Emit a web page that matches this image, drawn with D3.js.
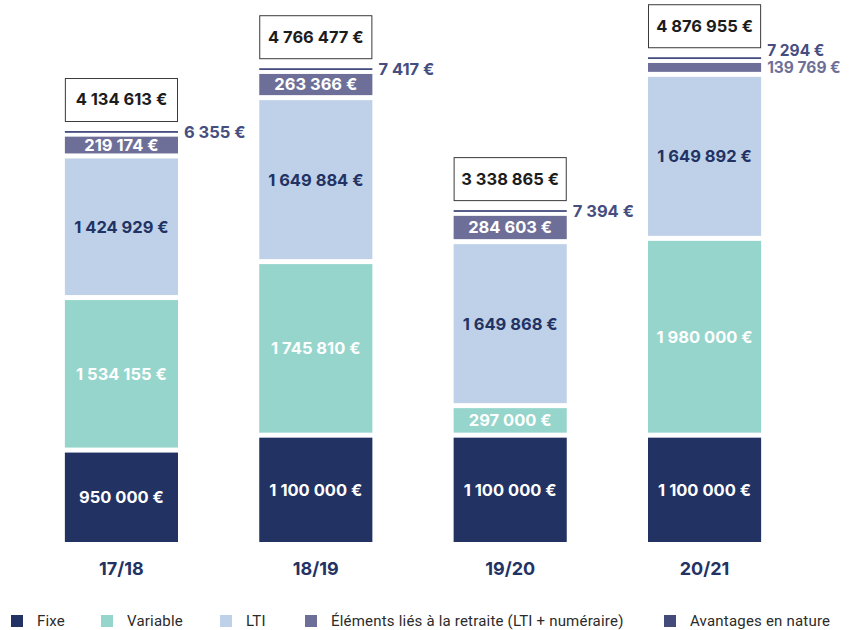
<!DOCTYPE html>
<html>
<head>
<meta charset="utf-8">
<script src="https://cdn.jsdelivr.net/npm/d3@7"></script>
<style>
  body { margin: 0; background: #fff; }
  svg { display: block; }
</style>
</head>
<body>
<svg id="chart"></svg>
<script>
// values (euros)
const periods = ['17/18', '18/19', '19/20', '20/21'];
const fixe = [950000, 1100000, 1100000, 1100000];
const variable = [1534155, 1745810, 297000, 1980000];
const lti = [1424929, 1649884, 1649868, 1649892];
const retraite = [219174, 263366, 284603, 139769];
const avantages = [6355, 7417, 7394, 7294];

const seriesNames = ['Fixe', 'Variable', 'LTI', 'Éléments liés à la retraite (LTI + numéraire)', 'Avantages en nature'];
const seriesKeys = ['fixe', 'variable', 'lti', 'retraite', 'avantages'];
const colors = ['#223263', '#95d5cb', '#bfd1e8', '#6e6f98', '#454c7e'];
const legendColors = ['#223263', '#95d5cb', '#bfd1e8', '#6e6f98', '#444a7a'];
const insideText = ['#fff', '#fff', '#223263', '#fff', '#fff'];

const width = 850, height = 630;
const gap = 5;

const fmt = v => d3.format(',')(v).replace(/,/g, ' ') + ' €';

const rows = periods.map((p, i) => ({
    period: p,
    fixe: fixe[i], variable: variable[i], lti: lti[i],
    retraite: retraite[i], avantages: avantages[i]
}));

const stack = d3.stack().keys(seriesKeys)(rows);

const svg = d3.select('#chart')
    .attr('width', width)
    .attr('height', height);

const x = d3.scaleBand()
    .domain(periods)
    .range([26, 800])
    .paddingInner(0.418)
    .paddingOuter(0.2);

const y = d3.scaleLinear()
    .domain([0, 5000000])
    .range([542, 45]);

const fontBold = 'Inter, "Noto Sans", sans-serif';
const labelSize = 16.5;

// segments
stack.forEach((layer, k) => {
    const g = svg.append('g').attr('class', 'layer-' + seriesKeys[k]);
    layer.forEach((d, i) => {
        const top0 = y(d[1]);
        let top = top0 + gap;
        let bottom = y(d[0]);
        let h = bottom - top;
        if (h < 2) { top = top0; h = 1.8; }
        g.append('rect')
            .attr('x', x(periods[i]))
            .attr('y', top)
            .attr('width', x.bandwidth())
            .attr('height', h)
            .attr('fill', colors[k]);

        const v = d[1] - d[0];
        if (h >= 14) {
            g.append('text')
                .attr('x', x(periods[i]) + x.bandwidth() / 2)
                .attr('y', top + h / 2)
                .attr('dy', '0.36em')
                .attr('text-anchor', 'middle')
                .attr('font-family', fontBold)
                .attr('font-weight', 700)
                .attr('font-size', labelSize)
                .attr('fill', insideText[k])
                .text(fmt(v));
        }
    });
});

// labels outside for the thin segments
rows.forEach((r, i) => {
    const total = d3.sum(seriesKeys, k => r[k]);
    const lx = x(r.period) + x.bandwidth() + 6;
    const retTop = y(total - r.avantages) + gap;
    const retBottom = y(total - r.avantages - r.retraite);
    const retOutside = (retBottom - retTop) < 14;

    let avY = y(total) + 1;
    if (retOutside) avY -= 8;

    svg.append('text')
        .attr('x', lx)
        .attr('y', avY)
        .attr('dy', '0.36em')
        .attr('font-family', fontBold)
        .attr('font-weight', 700)
        .attr('font-size', retOutside ? 15.5 : labelSize)
        .attr('fill', '#464d7f')
        .text(fmt(r.avantages));

    if (retOutside) {
        svg.append('text')
            .attr('x', lx)
            .attr('y', avY + 17)
            .attr('dy', '0.36em')
            .attr('font-family', fontBold)
            .attr('font-weight', 700)
            .attr('font-size', 15.5)
            .attr('fill', '#6e6f98')
            .text(fmt(r.retraite));
    }

    // total box
    const boxH = 43;
    const boxBottom = y(total) - 10;
    svg.append('rect')
        .attr('x', x(r.period) + 0.5)
        .attr('y', boxBottom - boxH + 0.5)
        .attr('width', x.bandwidth() - 1)
        .attr('height', boxH)
        .attr('fill', '#fff')
        .attr('stroke', '#3a3a3a')
        .attr('stroke-width', 1);

    svg.append('text')
        .attr('x', x(r.period) + x.bandwidth() / 2)
        .attr('y', boxBottom - boxH / 2)
        .attr('dy', '0.36em')
        .attr('text-anchor', 'middle')
        .attr('font-family', fontBold)
        .attr('font-weight', 700)
        .attr('font-size', labelSize)
        .attr('fill', '#1c1c1c')
        .text(fmt(total));
});

// category axis
const xAxis = svg.append('g')
    .attr('transform', 'translate(0,569)')
    .call(d3.axisBottom(x).tickSize(0).tickPadding(0));
xAxis.select('.domain').remove();
xAxis.selectAll('text')
    .attr('dy', '0.36em')
    .attr('font-family', fontBold)
    .attr('font-weight', 700)
    .attr('font-size', 18)
    .attr('fill', '#223263');

// legend
const legendX = [11, 101, 220, 305, 664];
const legend = svg.append('g').attr('class', 'legend');
seriesNames.forEach((name, k) => {
    legend.append('rect')
        .attr('x', legendX[k])
        .attr('y', 615)
        .attr('width', 12)
        .attr('height', 12)
        .attr('fill', legendColors[k]);
    legend.append('text')
        .attr('x', legendX[k] + 26)
        .attr('y', 621)
        .attr('dy', '0.36em')
        .attr('font-family', 'Roboto, sans-serif')
        .attr('font-size', 15)
        .attr('letter-spacing', 0.2)
        .attr('fill', '#2b2b2b')
        .text(name);
});
</script>
</body>
</html>
